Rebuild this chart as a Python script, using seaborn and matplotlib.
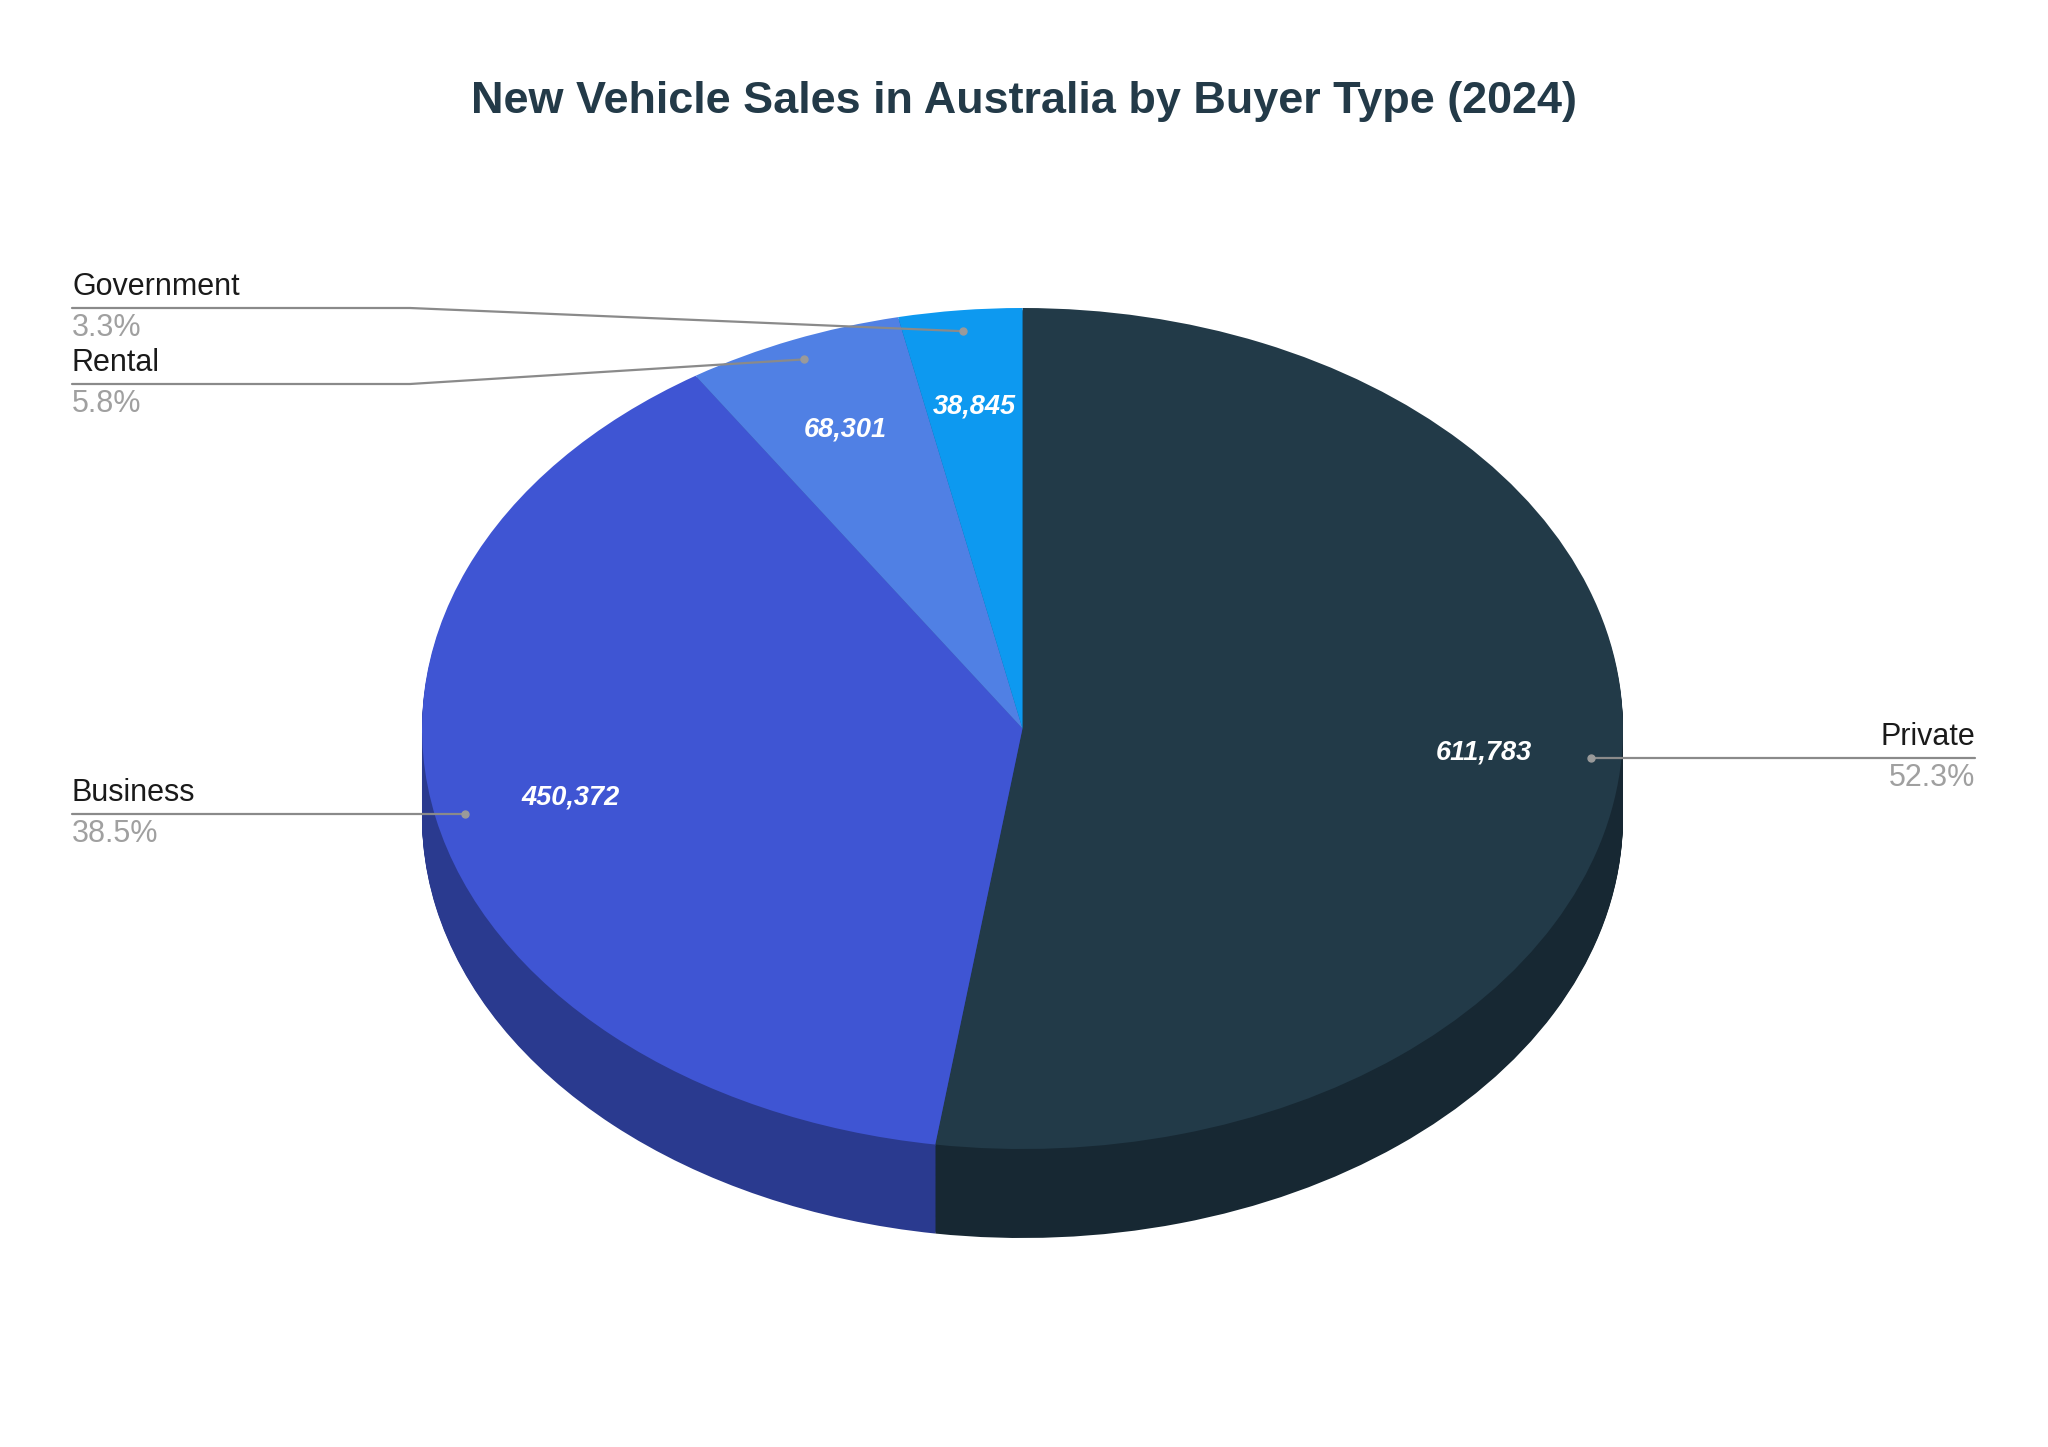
import numpy as np
import seaborn as sns
import matplotlib.pyplot as plt

# buyer type split of new vehicle sales, 2024
buyer_types = ['Private', 'Business', 'Rental', 'Government']
units_sold = [611783, 450372, 68301, 38845]
top_colors = ['#223A48', '#3F55D3', '#5080E4', '#0D99F0']
side_colors = ['#172833', '#2A3A8F', '#36579B', '#0968A3']

sns.set_theme(style='white')
plt.rcParams['font.family'] = ['Liberation Sans', 'DejaVu Sans']

W, H = 2048, 1447
fig = plt.figure(figsize=(W / 100, H / 100), dpi=100)

# pie box in pixels: left, right, top of ellipse, bottom of the side
px_l, px_r, px_t, px_b = 422, 1623, 308, 1238
ry_px = 420.5
depth = 89 / ry_px
ax = fig.add_axes([px_l / W, (H - px_b) / H, (px_r - px_l) / W, (px_b - px_t) / H])

# side of the cylinder: stack of darker pies
for k in np.linspace(depth, 0.005, 90):
    ax.pie(units_sold, colors=side_colors, startangle=90, counterclock=False,
           center=(0, -k), wedgeprops=dict(linewidth=0))

total = sum(units_sold)
wedges, _, autotexts = ax.pie(
    units_sold, colors=top_colors, startangle=90, counterclock=False,
    autopct=lambda p: f'{p * total / 100:,.0f}', pctdistance=0.77,
    wedgeprops=dict(linewidth=0),
    textprops=dict(color='white', fontsize=19.5, fontweight='bold', fontstyle='italic'))
ax.set_aspect('auto')
ax.set_xlim(-1, 1)
ax.set_ylim(-1 - depth, 1)
ax.axis('off')

# overlay in pixel coordinates for the outside labels
ov = fig.add_axes([0, 0, 1, 1], facecolor='none')
ov.set_xlim(0, W)
ov.set_ylim(H, 0)
ov.axis('off')

ov.text(W / 2, 102, 'New Vehicle Sales in Australia by Buyer Type (2024)',
        ha='center', va='center', fontsize=32.4, fontweight='bold', color='#233A48')

fig.canvas.draw()
elbow_y = {'Rental': 384, 'Government': 308}
for w, name, v in zip(wedges, buyer_types, units_sold):
    mid = np.deg2rad((w.theta1 + w.theta2) / 2)
    dx, dy = ax.transData.transform((0.95 * np.cos(mid), 0.95 * np.sin(mid)))
    ax_x, ax_y = dx, H - dy
    pct = f'{v / total * 100:.1f}%'
    if name == 'Private':
        ly = ax_y
        ov.plot([ax_x, 1975], [ly, ly], color='#8a8a8a', lw=1.6)
        x_txt, ha = 1975, 'right'
    elif name == 'Business':
        ly = ax_y
        ov.plot([72, ax_x], [ly, ly], color='#8a8a8a', lw=1.6)
        x_txt, ha = 72, 'left'
    else:
        ly = elbow_y[name]
        ov.plot([72, 410, ax_x], [ly, ly, ax_y], color='#8a8a8a', lw=1.6)
        x_txt, ha = 72, 'left'
    ov.plot(ax_x, ax_y, 'o', color='#9a9a9a', ms=5)
    ov.text(x_txt, ly - 6, name, ha=ha, va='bottom', fontsize=22, color='#1a1a1a')
    ov.text(x_txt, ly + 5, pct, ha=ha, va='top', fontsize=22, color='#a0a0a0')

fig.savefig('out.png', dpi=100, facecolor='white')
